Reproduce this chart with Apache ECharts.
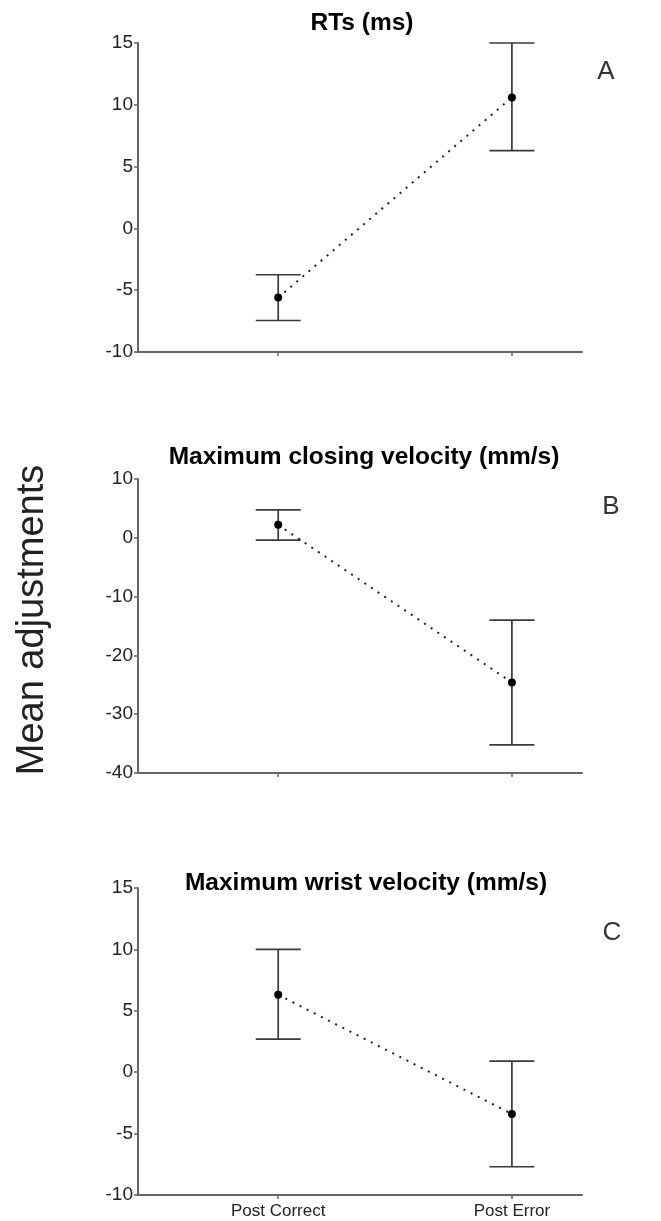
<!DOCTYPE html>
<html>
<head>
<meta charset="utf-8">
<script src="https://cdn.jsdelivr.net/npm/echarts@6/dist/echarts.min.js"></script>
<style>
  html, body { margin: 0; padding: 0; background: #fff; }
  #chart { width: 661px; height: 1221px; }
</style>
</head>
<body>
<div id="chart"></div>
<script>
// Conditions on the x axis and their positions
const conditions = ['Post Correct', 'Post Error'];
const conditionPos = [1, 2];

// Panel titles and letters
const panelTitles = ['RTs (ms)', 'Maximum closing velocity (mm/s)', 'Maximum wrist velocity (mm/s)'];
const panelLetters = ['A', 'B', 'C'];
const yAxisName = 'Mean adjustments';

// A: reaction times (ms)
const rtMean = [-5.6, 10.6];
const rtLow  = [-7.45, 6.3];
const rtHigh = [-3.75, 15.0];

// B: maximum closing velocity (mm/s)
const closingMean = [2.2, -24.6];
const closingLow  = [-0.4, -35.2];
const closingHigh = [4.75, -14.0];

// C: maximum wrist velocity (mm/s)
const wristMean = [6.3, -3.4];
const wristLow  = [2.7, -7.7];
const wristHigh = [10.0, 0.9];

// y axis ranges: [min, max, interval]
const yRanges = [[-10, 15, 5], [-40, 10, 10], [-10, 15, 5]];

const panels = [
  { mean: rtMean, low: rtLow, high: rtHigh },
  { mean: closingMean, low: closingLow, high: closingHigh },
  { mean: wristMean, low: wristLow, high: wristHigh }
];

const FONT = '"Liberation Sans", Arial, Helvetica, sans-serif';
const AXIS_COLOR = '#666';
const BAR_COLOR = '#3a3a3a';

const gridBoxes = [
  { left: 138, top: 43, width: 444, height: 309 },
  { left: 138, top: 479, width: 444, height: 294 },
  { left: 138, top: 888, width: 444, height: 307 }
];
const titleBoxes = [
  { x: 362, y: 23 },
  { x: 364, y: 457 },
  { x: 366, y: 883 }
];
const letterBoxes = [
  { x: 606, y: 72 },
  { x: 611, y: 507 },
  { x: 612, y: 933 }
];

const grid = gridBoxes.map(g => Object.assign({ containLabel: false }, g));

const xAxis = gridBoxes.map((g, i) => ({
  type: 'value',
  gridIndex: i,
  min: 0.4,
  max: 2.3,
  splitLine: { show: false },
  axisLine: { show: true, onZero: false, lineStyle: { color: AXIS_COLOR, width: 2 } },
  axisTick: { show: true, customValues: conditionPos, length: 4, lineStyle: { color: AXIS_COLOR, width: 1.5 } },
  axisLabel: {
    show: i === 2,
    customValues: conditionPos,
    formatter: v => conditions[conditionPos.indexOf(v)] || '',
    color: '#222',
    fontFamily: FONT,
    fontSize: 17,
    margin: 8
  }
}));

const yAxis = yRanges.map((r, i) => ({
  type: 'value',
  gridIndex: i,
  min: r[0],
  max: r[1],
  interval: r[2],
  splitLine: { show: false },
  axisLine: { show: true, onZero: false, lineStyle: { color: AXIS_COLOR, width: 2 } },
  axisTick: { show: true, length: 4, lineStyle: { color: AXIS_COLOR, width: 1.5 } },
  axisLabel: { color: '#222', fontFamily: FONT, fontSize: 19, margin: 5 }
}));

// Error bars: vertical whisker with caps, positioned via the axis scales
function renderErrorBar(params, api) {
  const x = api.value(0);
  const lo = api.coord([x, api.value(1)]);
  const hi = api.coord([x, api.value(2)]);
  const hw = 22.5;
  const style = { stroke: BAR_COLOR, lineWidth: 1.7 };
  return {
    type: 'group',
    children: [
      { type: 'line', shape: { x1: lo[0], y1: hi[1], x2: lo[0], y2: lo[1] }, style },
      { type: 'line', shape: { x1: lo[0] - hw, y1: hi[1], x2: lo[0] + hw, y2: hi[1] }, style },
      { type: 'line', shape: { x1: lo[0] - hw, y1: lo[1], x2: lo[0] + hw, y2: lo[1] }, style }
    ]
  };
}

const series = [];
panels.forEach((p, i) => {
  series.push({
    type: 'custom',
    xAxisIndex: i,
    yAxisIndex: i,
    clip: false,
    z: 2,
    renderItem: renderErrorBar,
    encode: { x: 0, y: [1, 2] },
    data: conditionPos.map((x, k) => [x, p.low[k], p.high[k]]),
    silent: true
  });
  series.push({
    type: 'line',
    xAxisIndex: i,
    yAxisIndex: i,
    z: 3,
    symbol: 'circle',
    symbolSize: 8,
    itemStyle: { color: '#000' },
    lineStyle: { color: '#222', width: 2, type: [2, 6] },
    data: conditionPos.map((x, k) => [x, p.mean[k]]),
    silent: true,
    animation: false
  });
});

const graphic = [];
panelTitles.forEach((t, i) => {
  graphic.push({
    type: 'text',
    x: titleBoxes[i].x,
    y: titleBoxes[i].y,
    style: {
      text: t,
      fill: '#000',
      font: 'bold 24.5px ' + FONT,
      textAlign: 'center',
      textVerticalAlign: 'middle'
    }
  });
  graphic.push({
    type: 'text',
    x: letterBoxes[i].x,
    y: letterBoxes[i].y,
    style: {
      text: panelLetters[i],
      fill: '#333',
      font: '26px ' + FONT,
      textAlign: 'center',
      textVerticalAlign: 'middle'
    }
  });
});
graphic.push({
  type: 'text',
  x: 33,
  y: 620,
  rotation: Math.PI / 2,
  style: {
    text: yAxisName,
    fill: '#222',
    font: '38px ' + FONT,
    textAlign: 'center',
    textVerticalAlign: 'middle'
  }
});

const chart = echarts.init(document.getElementById('chart'), null, { renderer: 'canvas' });
chart.setOption({
  backgroundColor: '#fff',
  animation: false,
  grid,
  xAxis,
  yAxis,
  series,
  graphic
});
</script>
</body>
</html>
